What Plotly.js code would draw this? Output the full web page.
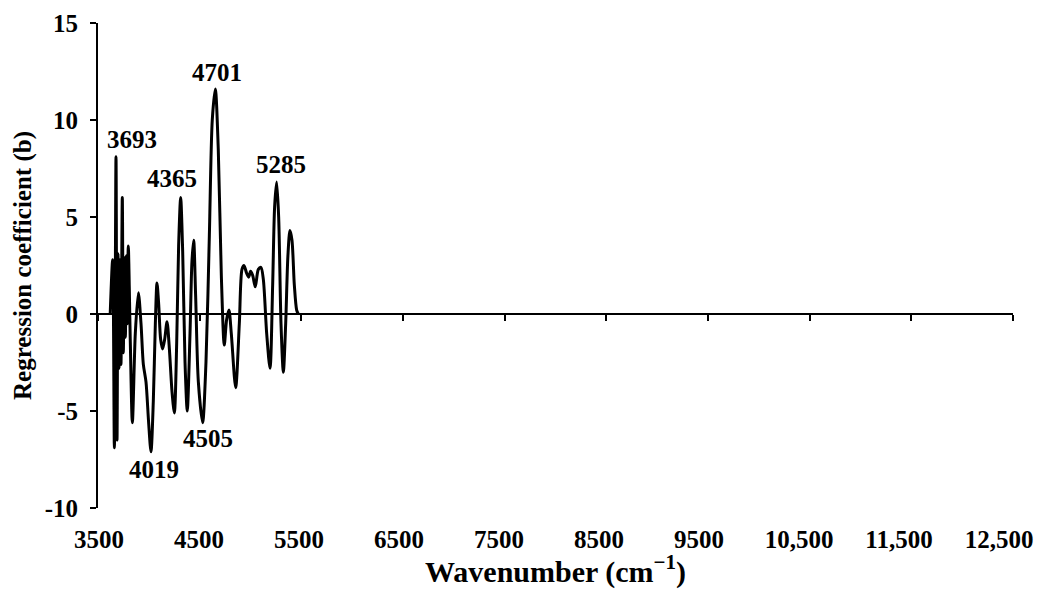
<!DOCTYPE html>
<html>
<head>
<meta charset="utf-8">
<script src="https://cdn.plot.ly/plotly-3.0.1.min.js"></script>
<style>
html,body{margin:0;padding:0;background:#fff;}
#chart{width:1045px;height:589px;}
</style>
</head>
<body>
<div id="chart"></div>
<script>
// Wavenumber (cm-1) and regression coefficient (b)
const wavenumber = [3620,3644,3661,3677,3687,3697,3707,3716,3726,3739,3749,3759,3769,3779,3788,3798,3818,3838,3867,3897,3923,3946,3972,3998,4021,4044,4064,4080,4097,4116,4136,4156,4179,4202,4228,4251,4274,4293,4313,4333,4356,4378,4405,4424,4441,4460,4487,4529,4562,4595,4624,4654,4683,4713,4742,4765,4788,4811,4854,4890,4916,4936,4962,4982,5001,5021,5047,5077,5103,5126,5159,5192,5218,5237,5257,5277,5300,5323,5346,5368,5388,5408,5431,5454,5470];
const coefficient = [0,2.8,-6.9,8.1,-6.5,3.1,-2.8,2.8,-2.6,6.0,-2.0,2.9,-1.2,3.0,-0.5,3.5,-1.5,-5.6,-1.0,1.1,-0.5,-2.6,-3.5,-5.6,-7.1,-4.5,-0.5,1.6,0.5,-1.3,-1.8,-1.3,-0.4,-1.8,-4.0,-5.1,-1.5,3.5,6.0,3.2,-2.5,-5.0,-1.0,2.7,3.8,1.0,-3.5,-5.6,-2.5,4.0,10.0,11.6,8.5,2.0,-1.6,-0.3,0.2,-1.0,-3.8,-0.5,2.3,2.5,2.1,1.9,2.2,2.0,1.4,2.3,2.4,1.8,-1.0,-2.8,1.5,5.5,6.8,5.0,-0.5,-3.0,-0.5,3.0,4.3,3.8,1.5,0.2,0];

// Peak labels
const peakLabels = ["3693","4365","4701","4505","4019","5285"];
const peakX = [3831,4224,4675,4585,4051,5300];
const peakY = [8.97,6.96,12.45,-6.44,-8.04,7.7];

// Axis ticks
const xTickVals = [3500,4500,5500,6500,7500,8500,9500,10500,11500,12500];
const xTickText = ["3500","4500","5500","6500","7500","8500","9500","10,500","11,500","12,500"];
const yTickVals = [-10,-5,0,5,10,15];
const yTickText = ["-10","-5","0","5","10","15"];

const FONT = "Liberation Serif, Times New Roman, serif";

const trace = {
  x: wavenumber, y: coefficient,
  type: "scatter", mode: "lines",
  line: {color: "#000", width: 3, shape: "spline", smoothing: 0.8},
  xaxis: "x", yaxis: "y",
  hoverinfo: "skip", showlegend: false
};
// same data registered on the labelled bottom axis (invisible) so that axis is drawn
const traceBottom = {
  x: wavenumber, y: coefficient,
  type: "scatter", mode: "lines", opacity: 0,
  line: {color: "rgba(0,0,0,0)", width: 0},
  xaxis: "x2", yaxis: "y",
  hoverinfo: "skip", showlegend: false
};

const annotations = peakLabels.map((t, i) => ({
  x: peakX[i], y: peakY[i], xref: "x", yref: "y",
  text: "<b>" + t + "</b>", showarrow: false,
  font: {family: FONT, size: 25, color: "#000"}
}));

const layout = {
  width: 1045, height: 589,
  margin: {l: 98, r: 32, t: 23, b: 81},
  paper_bgcolor: "#fff", plot_bgcolor: "#fff",
  font: {family: FONT, color: "#000"},
  showlegend: false,
  xaxis: {
    range: [3500, 12500], anchor: "free", position: 0.4,
    showline: true, linecolor: "#000", linewidth: 2,
    ticks: "outside", ticklen: 6, tickwidth: 2, tickcolor: "#000",
    tickvals: xTickVals, showticklabels: false,
    showgrid: false, zeroline: false
  },
  xaxis2: {
    range: [3490, 12640], overlaying: "x", anchor: "y", side: "bottom",
    showline: false, ticks: "", showgrid: false, zeroline: false,
    tickvals: xTickVals, ticktext: xTickText, ticklabelstandoff: 14,
    ticklabeloverflow: "allow",
    tickfont: {family: FONT, size: 25, color: "#000", weight: "bold"},
    title: {text: "<b>Wavenumber (cm<sup>\u22121</sup>)</b>", standoff: 8,
            font: {family: FONT, size: 30, color: "#000"}}
  },
  yaxis: {
    range: [-10, 15], showline: true, linecolor: "#000", linewidth: 2,
    ticks: "outside", ticklen: 6, tickwidth: 2, tickcolor: "#000",
    tickvals: yTickVals, ticktext: yTickText, ticklabelstandoff: 7,
    tickfont: {family: FONT, size: 25, color: "#000", weight: "bold"},
    showgrid: false, zeroline: false,
    title: {text: "<b>Regression coefficient (b)</b>", standoff: 6,
            font: {family: FONT, size: 25, color: "#000"}}
  },
  annotations: annotations
};

Plotly.newPlot("chart", [traceBottom, trace], layout, {staticPlot: true, displayModeBar: false});
</script>
</body>
</html>
